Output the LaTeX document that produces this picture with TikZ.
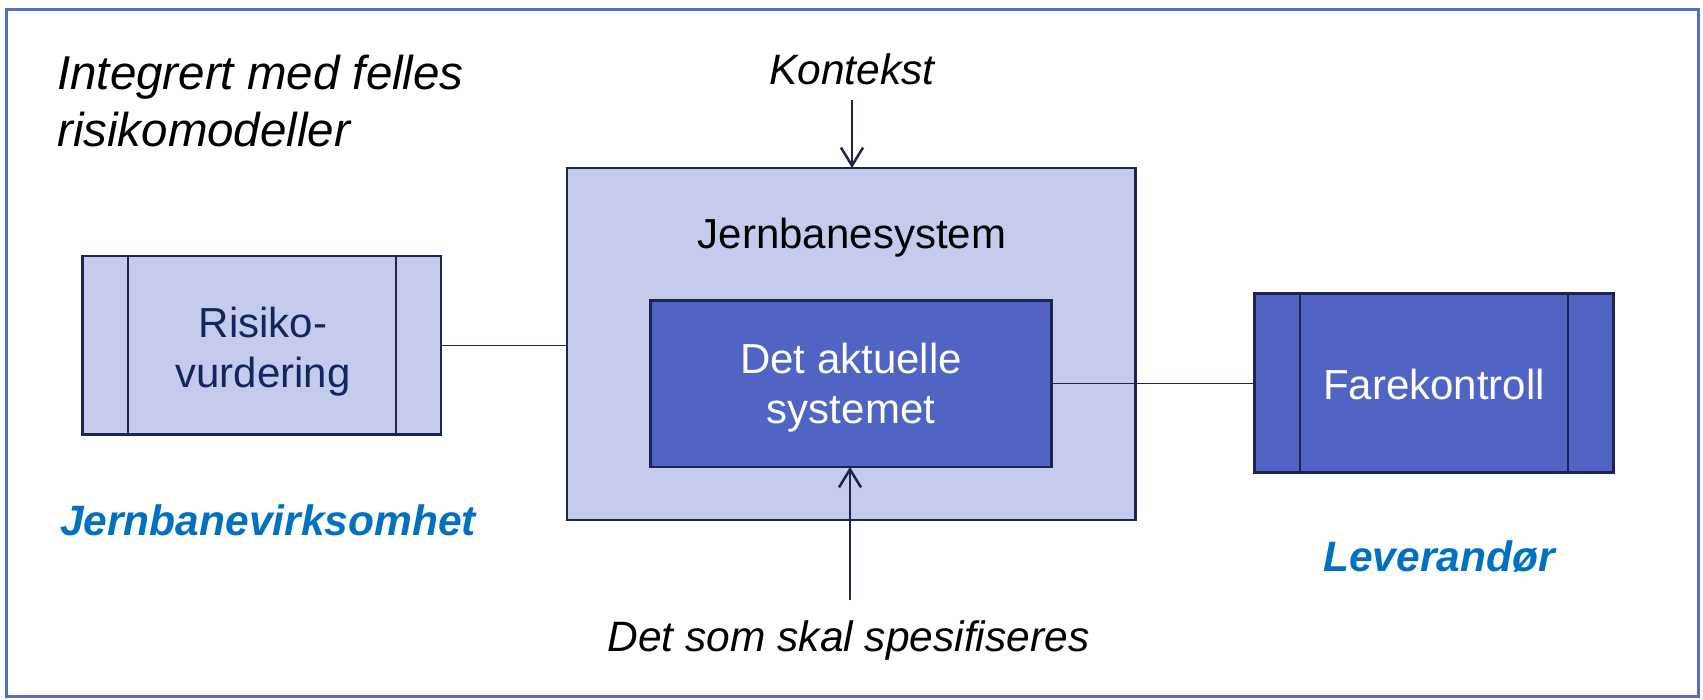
\documentclass[tikz,border=0pt]{standalone}
\usepackage{fontspec}
\setmainfont{Liberation Sans}
\usetikzlibrary{arrows.meta,calc}

\definecolor{framecol}{RGB}{88,106,200}
\definecolor{lightfill}{RGB}{197,203,236}
\definecolor{darkfill}{RGB}{80,100,196}
\definecolor{edgecol}{RGB}{30,36,80}
\definecolor{navytext}{RGB}{18,38,96}
\definecolor{bluelabel}{RGB}{0,112,192}

\tikzset{
  box/.style={draw=edgecol, line width=2.5pt, inner sep=0pt, outer sep=0pt},
  lightbox/.style={box, fill=lightfill},
  darkbox/.style={box, fill=darkfill},
  divider/.style={draw=edgecol, line width=2.5pt},
  link/.style={draw=edgecol, line width=1.3pt},
  feed/.style={draw=edgecol, line width=2.5pt, -{Straight Barb[length=18pt,width=22pt,line width=2.5pt]}},
  bodytext/.style={inner sep=0pt, anchor=base, font=\fontsize{42}{50}\selectfont},
  notetext/.style={inner sep=0pt, anchor=base, font=\fontsize{42.5}{50}\selectfont\itshape},
  titletext/.style={inner sep=0pt, anchor=base west, font=\fontsize{47.5}{57}\selectfont\itshape},
  partytext/.style={inner sep=0pt, anchor=base west, text=bluelabel, font=\fontsize{42.5}{50}\selectfont\bfseries\itshape},
}

\begin{document}
\begin{tikzpicture}[x=1pt, y=-1pt]
  \useasboundingbox (0,0) rectangle (1703,699);
  \fill[white] (0,0) rectangle (1703,699);

  % outer frame
  \draw[framecol, line width=3pt] (6.5,9.5) rectangle (1698.5,696.5);

  % heading
  \node[titletext] (title1) at (57,89.5) {Integrert med felles};
  \node[titletext] (title2) at (57,146.5) {risikomodeller};

  % railway system with the system in question inside it
  \node[lightbox, minimum width=568.5pt, minimum height=352pt] (jern) at (851.25,344) {};
  \node[bodytext] (jernlbl) at (852,248) {Jernbanesystem};
  \node[darkbox, minimum width=401pt, minimum height=166.5pt] (akt) at (851,383.75) {};
  \node[bodytext, text=white] (akt1) at (851,373) {Det aktuelle};
  \node[bodytext, text=white] (akt2) at (851,423) {systemet};

  % risk assessment process
  \node[lightbox, minimum width=358.5pt, minimum height=178.5pt] (risk) at (261.75,345.25) {};
  \draw[divider] (128,256) -- (128,434.5);
  \draw[divider] (396,256) -- (396,434.5);
  \node[bodytext, text=navytext] (risk1) at (263,337) {Risiko-};
  \node[bodytext, text=navytext] (risk2) at (263,387) {vurdering};

  % hazard control process
  \node[darkbox, minimum width=359pt, minimum height=179pt] (fare) at (1434,383) {};
  \draw[divider] (1300,293.5) -- (1300,472.5);
  \draw[divider] (1568,293.5) -- (1568,472.5);
  \node[bodytext, text=white] (farelbl) at (1434,399) {Farekontroll};

  % connections
  \draw[link] (risk.east) -- (risk.east -| jern.west);
  \draw[link] (akt.east) -- (akt.east -| fare.west);

  % context and specification inputs
  \node[notetext] (kontekst) at (852,84) {Kontekst};
  \coordinate (ktop) at (852,100);
  \draw[feed] (ktop) -- (ktop |- jern.north);

  \node[notetext] (spes) at (848.5,651) {Det som skal spesifiseres};
  \coordinate (sbot) at (850,600);
  \draw[feed] (sbot) -- (sbot |- akt.south);

  % parties
  \node[partytext] (virk) at (60,535) {Jernbanevirksomhet};
  \node[partytext] (lev) at (1323,571) {Leverandør};
\end{tikzpicture}
\end{document}
